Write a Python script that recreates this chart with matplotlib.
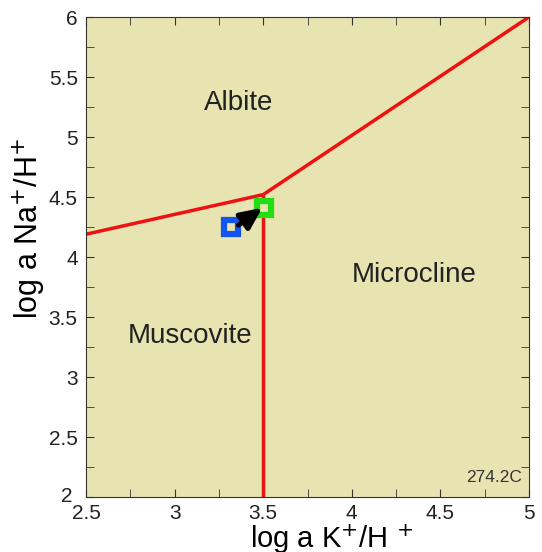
import matplotlib.pyplot as plt
import matplotlib.transforms as mtransforms
from matplotlib.ticker import MultipleLocator

plt.rcParams['font.family'] = ['Liberation Sans', 'DejaVu Sans']

# Phase boundaries (log a K+/H+, log a Na+/H+)
albite_musc_x = [2.5, 3.5]
albite_musc_y = [4.19, 4.52]
albite_micro_x = [3.5, 5.0]
albite_micro_y = [4.52, 6.0]
musc_micro_x = [3.5, 3.5]
musc_micro_y = [4.52, 2.0]

# water composition: start -> end
start_pt = (3.32, 4.25)
end_pt = (3.505, 4.41)

field_names = ['Albite', 'Microcline', 'Muscovite']
field_x = [3.36, 4.35, 3.09]
field_y = [5.28, 3.85, 3.34]

fig = plt.figure(figsize=(5.42, 5.52), dpi=100)
ax = fig.add_axes([0.1587, 0.0996, 0.8173, 0.8696])
ax.set_facecolor('#e8e4b2')

for xs, ys in [(albite_musc_x, albite_musc_y), (albite_micro_x, albite_micro_y), (musc_micro_x, musc_micro_y)]:
    ax.plot(xs, ys, color='#ee1111', lw=2.5, solid_capstyle='butt', zorder=2)

ax.plot(*start_pt, marker='s', ms=10.5, mfc='#e8e4b2', mec='#1155ee', mew=4.5, zorder=4)
ax.plot(*end_pt, marker='s', ms=10.5, mfc='#e8e4b2', mec='#22dd11', mew=4.5, zorder=4)
ax.annotate('', xy=(end_pt[0] - 0.01, end_pt[1]), xytext=(start_pt[0] + 0.04, start_pt[1] + 0.015),
            arrowprops=dict(arrowstyle='-|>,head_length=0.65,head_width=0.3', color='black', lw=3.5,
                            mutation_scale=20, shrinkA=0, shrinkB=0), zorder=5)

for name, x, y in zip(field_names, field_x, field_y):
    ax.text(x, y, name, fontsize=20, ha='center', va='center', color='#222222')

ax.text(4.96, 2.16, '274.2C', fontsize=12.5, ha='right', va='center', color='#333333')

ax.set_xlim(2.5, 5)
ax.set_ylim(2, 6)
ax.set_xticks([2.5, 3, 3.5, 4, 4.5, 5])
ax.set_xticklabels(['2.5', '3', '3.5', '4', '4.5', '5'])
ax.set_yticks([2, 2.5, 3, 3.5, 4, 4.5, 5, 5.5, 6])
ax.set_yticklabels(['2', '2.5', '3', '3.5', '4', '4.5', '5', '5.5', '6'])
ax.xaxis.set_minor_locator(MultipleLocator(0.25))
ax.yaxis.set_minor_locator(MultipleLocator(0.25))
ax.tick_params(which='both', direction='in', top=True, right=True, length=6, colors='#333333')
ax.tick_params(axis='x', which='major', labelsize=15, labelcolor='#222222', pad=5)
ax.tick_params(axis='y', which='major', labelsize=15, labelcolor='#222222', pad=6)
for s in ax.spines.values():
    s.set_color('#333333')

# nudge the corner "2" so it clears the "2.5" below it
lbl = ax.get_yticklabels()[0]
lbl.set_transform(lbl.get_transform() + mtransforms.ScaledTranslation(-4 / 72, 2 / 72, fig.dpi_scale_trans))

ax.set_xlabel('log a K$^{+}$/H $^{+}$', fontsize=21)
ax.set_ylabel('log a Na$^{+}$/H$^{+}$', fontsize=22)
ax.xaxis.set_label_coords(0.555, -0.052)
ax.yaxis.set_label_coords(-0.088, 0.56)

fig.savefig('out.png', dpi=100)
